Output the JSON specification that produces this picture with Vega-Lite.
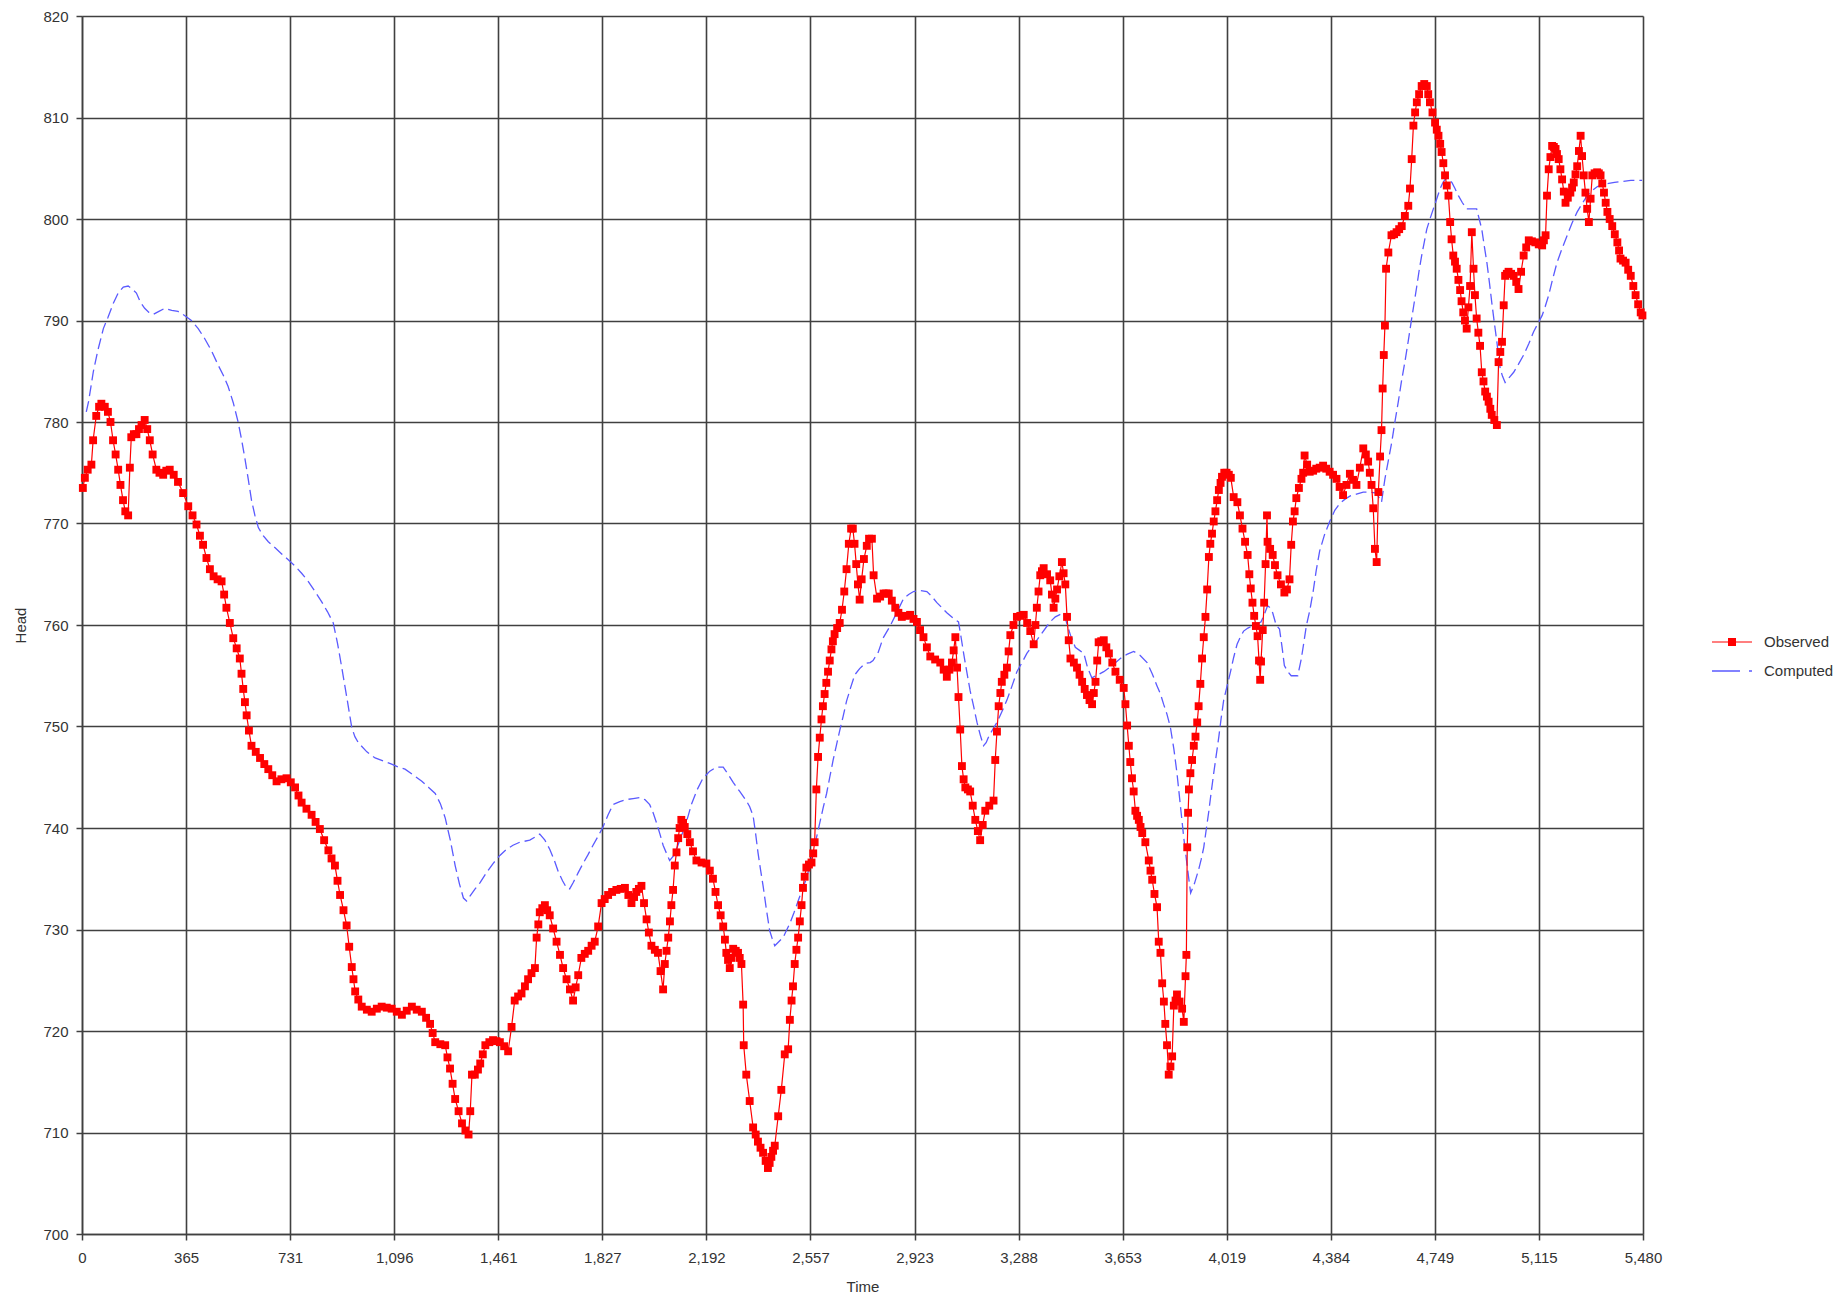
{
"$schema": "https://vega.github.io/schema/vega-lite/v6.json",
"width": 1561, "height": 1218,
"autosize": {"type": "none"},
"padding": {"left": 82, "top": 16, "right": 204, "bottom": 63},
"background": "white",
"config": {
 "view": {"stroke": null},
 "font": "Liberation Sans",
 "axis": {
  "domainColor": "#404040", "domainWidth": 1.5,
  "tickColor": "#404040", "tickWidth": 1.5, "tickSize": 6,
  "gridColor": "#404040", "gridWidth": 1.6, "gridOpacity": 1,
  "labelFont": "Liberation Sans", "labelFontSize": 15, "labelColor": "#333333",
  "titleFont": "Liberation Sans", "titleFontSize": 15, "titleFontWeight": "normal", "titleColor": "#333333",
  "labelOverlap": false, "labelFlush": false
 }
},
"datasets": {
"obs": [
{"Time":3,"Head":773.5},{"Time":10,"Head":774.5},{"Time":20,"Head":775.3},{"Time":33,"Head":775.8},{"Time":39,"Head":778.2},{"Time":50,"Head":780.6},{"Time":60,"Head":781.5},{"Time":68,"Head":781.8},{"Time":80,"Head":781.5},{"Time":91,"Head":781.0},{"Time":100,"Head":780.0},{"Time":109,"Head":778.2},{"Time":118,"Head":776.8},{"Time":127,"Head":775.3},{"Time":135,"Head":773.8},{"Time":144,"Head":772.3},{"Time":152,"Head":771.2},{"Time":162,"Head":770.8},{"Time":168,"Head":775.5},{"Time":173,"Head":778.5},{"Time":182,"Head":778.8},{"Time":191,"Head":778.8},{"Time":200,"Head":779.3},{"Time":209,"Head":779.7},{"Time":220,"Head":780.2},{"Time":229,"Head":779.3},{"Time":238,"Head":778.2},{"Time":248,"Head":776.8},{"Time":261,"Head":775.3},{"Time":272,"Head":775.0},{"Time":285,"Head":774.8},{"Time":296,"Head":775.2},{"Time":308,"Head":775.3},{"Time":322,"Head":774.8},{"Time":337,"Head":774.1},{"Time":355,"Head":773.0},{"Time":373,"Head":771.7},{"Time":388,"Head":770.8},{"Time":402,"Head":769.9},{"Time":414,"Head":768.8},{"Time":425,"Head":767.9},{"Time":437,"Head":766.6},{"Time":449,"Head":765.5},{"Time":462,"Head":764.8},{"Time":476,"Head":764.5},{"Time":490,"Head":764.3},{"Time":499,"Head":763.0},{"Time":507,"Head":761.7},{"Time":519,"Head":760.2},{"Time":531,"Head":758.7},{"Time":543,"Head":757.7},{"Time":554,"Head":756.7},{"Time":560,"Head":755.2},{"Time":566,"Head":753.7},{"Time":572,"Head":752.4},{"Time":578,"Head":751.1},{"Time":586,"Head":749.6},{"Time":595,"Head":748.1},{"Time":610,"Head":747.5},{"Time":625,"Head":746.9},{"Time":640,"Head":746.3},{"Time":654,"Head":745.8},{"Time":668,"Head":745.2},{"Time":683,"Head":744.6},{"Time":700,"Head":744.8},{"Time":718,"Head":744.9},{"Time":733,"Head":744.5},{"Time":748,"Head":744.0},{"Time":760,"Head":743.2},{"Time":771,"Head":742.5},{"Time":788,"Head":741.9},{"Time":806,"Head":741.3},{"Time":820,"Head":740.6},{"Time":835,"Head":739.9},{"Time":850,"Head":738.8},{"Time":865,"Head":737.8},{"Time":876,"Head":737.0},{"Time":888,"Head":736.3},{"Time":897,"Head":734.8},{"Time":906,"Head":733.4},{"Time":918,"Head":731.9},{"Time":929,"Head":730.4},{"Time":938,"Head":728.3},{"Time":947,"Head":726.3},{"Time":953,"Head":725.1},{"Time":959,"Head":723.9},{"Time":970,"Head":723.1},{"Time":982,"Head":722.4},{"Time":1000,"Head":722.1},{"Time":1017,"Head":721.9},{"Time":1035,"Head":722.2},{"Time":1052,"Head":722.4},{"Time":1070,"Head":722.3},{"Time":1087,"Head":722.2},{"Time":1105,"Head":721.9},{"Time":1123,"Head":721.6},{"Time":1140,"Head":722.0},{"Time":1158,"Head":722.4},{"Time":1175,"Head":722.1},{"Time":1193,"Head":721.9},{"Time":1208,"Head":721.3},{"Time":1222,"Head":720.7},{"Time":1231,"Head":719.8},{"Time":1240,"Head":718.9},{"Time":1258,"Head":718.7},{"Time":1275,"Head":718.6},{"Time":1283,"Head":717.4},{"Time":1292,"Head":716.3},{"Time":1301,"Head":714.8},{"Time":1310,"Head":713.3},{"Time":1322,"Head":712.1},{"Time":1334,"Head":710.9},{"Time":1346,"Head":710.2},{"Time":1357,"Head":709.8},{"Time":1363,"Head":712.1},{"Time":1369,"Head":715.7},{"Time":1379,"Head":715.7},{"Time":1390,"Head":716.2},{"Time":1398,"Head":716.8},{"Time":1407,"Head":717.7},{"Time":1416,"Head":718.6},{"Time":1430,"Head":718.9},{"Time":1443,"Head":719.1},{"Time":1455,"Head":719.0},{"Time":1467,"Head":718.9},{"Time":1482,"Head":718.5},{"Time":1496,"Head":718.0},{"Time":1508,"Head":720.4},{"Time":1519,"Head":723.0},{"Time":1531,"Head":723.4},{"Time":1543,"Head":723.7},{"Time":1555,"Head":724.4},{"Time":1566,"Head":725.1},{"Time":1578,"Head":725.7},{"Time":1590,"Head":726.2},{"Time":1596,"Head":729.2},{"Time":1602,"Head":730.5},{"Time":1607,"Head":731.7},{"Time":1616,"Head":732.1},{"Time":1625,"Head":732.4},{"Time":1633,"Head":731.9},{"Time":1642,"Head":731.4},{"Time":1654,"Head":730.1},{"Time":1666,"Head":728.8},{"Time":1678,"Head":727.5},{"Time":1689,"Head":726.2},{"Time":1701,"Head":725.1},{"Time":1713,"Head":724.1},{"Time":1724,"Head":723.0},{"Time":1733,"Head":724.3},{"Time":1742,"Head":725.5},{"Time":1753,"Head":727.2},{"Time":1765,"Head":727.6},{"Time":1777,"Head":727.9},{"Time":1789,"Head":728.4},{"Time":1800,"Head":728.8},{"Time":1812,"Head":730.3},{"Time":1824,"Head":732.6},{"Time":1835,"Head":733.0},{"Time":1847,"Head":733.4},{"Time":1861,"Head":733.7},{"Time":1876,"Head":733.9},{"Time":1891,"Head":734.0},{"Time":1906,"Head":734.1},{"Time":1918,"Head":733.4},{"Time":1929,"Head":732.6},{"Time":1938,"Head":733.2},{"Time":1946,"Head":733.7},{"Time":1955,"Head":734.0},{"Time":1964,"Head":734.3},{"Time":1973,"Head":732.6},{"Time":1982,"Head":731.0},{"Time":1990,"Head":729.7},{"Time":1999,"Head":728.4},{"Time":2011,"Head":728.0},{"Time":2022,"Head":727.7},{"Time":2031,"Head":725.9},{"Time":2040,"Head":724.1},{"Time":2046,"Head":726.6},{"Time":2052,"Head":727.9},{"Time":2058,"Head":729.2},{"Time":2064,"Head":730.8},{"Time":2069,"Head":732.4},{"Time":2075,"Head":733.9},{"Time":2081,"Head":736.3},{"Time":2087,"Head":737.6},{"Time":2093,"Head":739.0},{"Time":2098,"Head":740.0},{"Time":2104,"Head":740.8},{"Time":2110,"Head":740.5},{"Time":2116,"Head":740.1},{"Time":2125,"Head":739.4},{"Time":2134,"Head":738.6},{"Time":2145,"Head":737.7},{"Time":2157,"Head":736.8},{"Time":2175,"Head":736.6},{"Time":2192,"Head":736.5},{"Time":2204,"Head":735.8},{"Time":2215,"Head":735.0},{"Time":2224,"Head":733.7},{"Time":2233,"Head":732.4},{"Time":2242,"Head":731.4},{"Time":2251,"Head":730.3},{"Time":2257,"Head":729.0},{"Time":2262,"Head":727.7},{"Time":2268,"Head":727.0},{"Time":2274,"Head":726.2},{"Time":2280,"Head":727.2},{"Time":2286,"Head":728.1},{"Time":2295,"Head":727.9},{"Time":2303,"Head":727.7},{"Time":2309,"Head":727.2},{"Time":2315,"Head":726.6},{"Time":2321,"Head":722.6},{"Time":2323,"Head":718.6},{"Time":2332,"Head":715.7},{"Time":2344,"Head":713.1},{"Time":2356,"Head":710.5},{"Time":2365,"Head":709.8},{"Time":2373,"Head":709.1},{"Time":2382,"Head":708.5},{"Time":2391,"Head":708.0},{"Time":2400,"Head":707.2},{"Time":2408,"Head":706.5},{"Time":2414,"Head":707.0},{"Time":2420,"Head":707.6},{"Time":2426,"Head":708.2},{"Time":2432,"Head":708.7},{"Time":2444,"Head":711.6},{"Time":2455,"Head":714.2},{"Time":2467,"Head":717.7},{"Time":2479,"Head":718.2},{"Time":2485,"Head":721.1},{"Time":2491,"Head":723.0},{"Time":2496,"Head":724.4},{"Time":2502,"Head":726.6},{"Time":2508,"Head":728.0},{"Time":2514,"Head":729.2},{"Time":2520,"Head":730.8},{"Time":2526,"Head":732.4},{"Time":2531,"Head":734.1},{"Time":2537,"Head":735.2},{"Time":2543,"Head":736.1},{"Time":2552,"Head":736.4},{"Time":2561,"Head":736.6},{"Time":2567,"Head":737.5},{"Time":2572,"Head":738.6},{"Time":2578,"Head":743.8},{"Time":2584,"Head":747.0},{"Time":2590,"Head":748.9},{"Time":2596,"Head":750.7},{"Time":2601,"Head":752.0},{"Time":2607,"Head":753.2},{"Time":2613,"Head":754.3},{"Time":2619,"Head":755.4},{"Time":2625,"Head":756.5},{"Time":2631,"Head":757.6},{"Time":2636,"Head":758.4},{"Time":2642,"Head":759.1},{"Time":2651,"Head":759.7},{"Time":2660,"Head":760.2},{"Time":2668,"Head":761.5},{"Time":2676,"Head":763.3},{"Time":2684,"Head":765.5},{"Time":2692,"Head":768.0},{"Time":2700,"Head":769.5},{"Time":2706,"Head":769.5},{"Time":2712,"Head":768.0},{"Time":2718,"Head":766.0},{"Time":2724,"Head":764.0},{"Time":2730,"Head":762.5},{"Time":2737,"Head":764.5},{"Time":2745,"Head":766.5},{"Time":2755,"Head":767.8},{"Time":2763,"Head":768.5},{"Time":2773,"Head":768.5},{"Time":2779,"Head":764.9},{"Time":2791,"Head":762.6},{"Time":2802,"Head":762.8},{"Time":2814,"Head":763.1},{"Time":2823,"Head":763.1},{"Time":2832,"Head":763.1},{"Time":2843,"Head":762.4},{"Time":2855,"Head":761.7},{"Time":2866,"Head":761.2},{"Time":2878,"Head":760.8},{"Time":2892,"Head":760.9},{"Time":2907,"Head":761.0},{"Time":2919,"Head":760.6},{"Time":2931,"Head":760.3},{"Time":2942,"Head":759.5},{"Time":2954,"Head":758.8},{"Time":2966,"Head":757.8},{"Time":2978,"Head":756.9},{"Time":2995,"Head":756.6},{"Time":3013,"Head":756.3},{"Time":3025,"Head":755.6},{"Time":3036,"Head":754.9},{"Time":3045,"Head":755.6},{"Time":3054,"Head":756.3},{"Time":3060,"Head":757.5},{"Time":3066,"Head":758.8},{"Time":3072,"Head":755.8},{"Time":3077,"Head":752.9},{"Time":3083,"Head":749.7},{"Time":3089,"Head":746.1},{"Time":3095,"Head":744.8},{"Time":3101,"Head":744.0},{"Time":3110,"Head":743.8},{"Time":3118,"Head":743.6},{"Time":3127,"Head":742.2},{"Time":3136,"Head":740.8},{"Time":3145,"Head":739.7},{"Time":3153,"Head":738.8},{"Time":3162,"Head":740.3},{"Time":3171,"Head":741.7},{"Time":3185,"Head":742.2},{"Time":3200,"Head":742.7},{"Time":3206,"Head":746.7},{"Time":3212,"Head":749.5},{"Time":3218,"Head":752.0},{"Time":3224,"Head":753.3},{"Time":3229,"Head":754.4},{"Time":3238,"Head":755.1},{"Time":3247,"Head":755.8},{"Time":3253,"Head":757.4},{"Time":3259,"Head":759.0},{"Time":3270,"Head":760.0},{"Time":3282,"Head":760.8},{"Time":3294,"Head":760.9},{"Time":3306,"Head":761.0},{"Time":3318,"Head":760.2},{"Time":3329,"Head":759.4},{"Time":3341,"Head":758.1},{"Time":3347,"Head":760.0},{"Time":3352,"Head":761.7},{"Time":3358,"Head":763.3},{"Time":3364,"Head":764.9},{"Time":3370,"Head":765.3},{"Time":3376,"Head":765.6},{"Time":3388,"Head":765.0},{"Time":3399,"Head":764.4},{"Time":3405,"Head":763.0},{"Time":3411,"Head":761.7},{"Time":3417,"Head":762.6},{"Time":3423,"Head":763.5},{"Time":3431,"Head":764.8},{"Time":3440,"Head":766.2},{"Time":3446,"Head":765.1},{"Time":3452,"Head":764.0},{"Time":3458,"Head":760.8},{"Time":3464,"Head":758.5},{"Time":3470,"Head":756.7},{"Time":3482,"Head":756.3},{"Time":3493,"Head":755.8},{"Time":3502,"Head":755.1},{"Time":3511,"Head":754.4},{"Time":3520,"Head":753.7},{"Time":3528,"Head":753.1},{"Time":3537,"Head":752.6},{"Time":3546,"Head":752.2},{"Time":3552,"Head":753.3},{"Time":3558,"Head":754.4},{"Time":3564,"Head":756.5},{"Time":3569,"Head":758.3},{"Time":3578,"Head":758.4},{"Time":3587,"Head":758.5},{"Time":3596,"Head":757.8},{"Time":3605,"Head":757.2},{"Time":3617,"Head":756.3},{"Time":3628,"Head":755.4},{"Time":3643,"Head":754.6},{"Time":3657,"Head":753.8},{"Time":3663,"Head":752.2},{"Time":3669,"Head":750.1},{"Time":3675,"Head":748.1},{"Time":3680,"Head":746.5},{"Time":3686,"Head":744.9},{"Time":3692,"Head":743.6},{"Time":3698,"Head":741.7},{"Time":3704,"Head":741.2},{"Time":3710,"Head":740.8},{"Time":3716,"Head":740.1},{"Time":3722,"Head":739.5},{"Time":3733,"Head":738.6},{"Time":3745,"Head":736.8},{"Time":3751,"Head":735.8},{"Time":3757,"Head":734.9},{"Time":3765,"Head":733.5},{"Time":3774,"Head":732.2},{"Time":3780,"Head":728.8},{"Time":3786,"Head":727.7},{"Time":3792,"Head":724.7},{"Time":3798,"Head":722.9},{"Time":3803,"Head":720.7},{"Time":3809,"Head":718.6},{"Time":3815,"Head":715.7},{"Time":3821,"Head":716.5},{"Time":3827,"Head":717.5},{"Time":3833,"Head":722.5},{"Time":3839,"Head":723.0},{"Time":3844,"Head":723.6},{"Time":3853,"Head":722.9},{"Time":3862,"Head":722.2},{"Time":3868,"Head":720.9},{"Time":3874,"Head":725.4},{"Time":3877,"Head":727.5},{"Time":3880,"Head":738.1},{"Time":3883,"Head":741.5},{"Time":3886,"Head":743.8},{"Time":3891,"Head":745.4},{"Time":3897,"Head":746.7},{"Time":3903,"Head":748.1},{"Time":3909,"Head":749.0},{"Time":3915,"Head":750.4},{"Time":3920,"Head":752.0},{"Time":3926,"Head":754.2},{"Time":3932,"Head":756.7},{"Time":3938,"Head":758.8},{"Time":3944,"Head":760.8},{"Time":3950,"Head":763.5},{"Time":3956,"Head":766.7},{"Time":3961,"Head":768.0},{"Time":3967,"Head":769.0},{"Time":3973,"Head":770.2},{"Time":3979,"Head":771.2},{"Time":3985,"Head":772.3},{"Time":3991,"Head":773.3},{"Time":3997,"Head":774.0},{"Time":4002,"Head":774.6},{"Time":4010,"Head":775.0},{"Time":4018,"Head":775.0},{"Time":4026,"Head":774.8},{"Time":4033,"Head":774.5},{"Time":4043,"Head":772.6},{"Time":4056,"Head":772.1},{"Time":4065,"Head":770.8},{"Time":4074,"Head":769.5},{"Time":4083,"Head":768.2},{"Time":4092,"Head":766.9},{"Time":4098,"Head":765.0},{"Time":4103,"Head":763.6},{"Time":4109,"Head":762.2},{"Time":4115,"Head":760.9},{"Time":4121,"Head":759.9},{"Time":4127,"Head":758.9},{"Time":4132,"Head":756.5},{"Time":4136,"Head":754.6},{"Time":4139,"Head":756.4},{"Time":4145,"Head":759.5},{"Time":4150,"Head":762.2},{"Time":4155,"Head":766.0},{"Time":4160,"Head":770.8},{"Time":4162,"Head":768.2},{"Time":4171,"Head":767.5},{"Time":4180,"Head":766.9},{"Time":4188,"Head":765.9},{"Time":4197,"Head":764.9},{"Time":4209,"Head":764.0},{"Time":4221,"Head":763.2},{"Time":4230,"Head":763.5},{"Time":4239,"Head":764.5},{"Time":4245,"Head":767.9},{"Time":4251,"Head":770.2},{"Time":4257,"Head":771.2},{"Time":4263,"Head":772.5},{"Time":4272,"Head":773.5},{"Time":4281,"Head":774.4},{"Time":4287,"Head":775.0},{"Time":4292,"Head":776.7},{"Time":4301,"Head":775.8},{"Time":4310,"Head":775.1},{"Time":4322,"Head":775.2},{"Time":4333,"Head":775.4},{"Time":4345,"Head":775.5},{"Time":4357,"Head":775.7},{"Time":4368,"Head":775.4},{"Time":4380,"Head":775.1},{"Time":4392,"Head":774.8},{"Time":4404,"Head":774.4},{"Time":4415,"Head":773.6},{"Time":4427,"Head":772.8},{"Time":4439,"Head":773.8},{"Time":4451,"Head":774.9},{"Time":4462,"Head":774.3},{"Time":4474,"Head":773.8},{"Time":4486,"Head":775.5},{"Time":4498,"Head":777.4},{"Time":4507,"Head":776.8},{"Time":4515,"Head":776.1},{"Time":4521,"Head":775.0},{"Time":4527,"Head":773.8},{"Time":4533,"Head":771.5},{"Time":4539,"Head":767.5},{"Time":4545,"Head":766.2},{"Time":4551,"Head":773.1},{"Time":4557,"Head":776.6},{"Time":4562,"Head":779.2},{"Time":4566,"Head":783.3},{"Time":4570,"Head":786.6},{"Time":4574,"Head":789.5},{"Time":4578,"Head":795.1},{"Time":4586,"Head":796.7},{"Time":4597,"Head":798.4},{"Time":4606,"Head":798.5},{"Time":4615,"Head":798.7},{"Time":4624,"Head":799.0},{"Time":4633,"Head":799.3},{"Time":4644,"Head":800.3},{"Time":4656,"Head":801.3},{"Time":4662,"Head":803.0},{"Time":4668,"Head":805.9},{"Time":4674,"Head":809.2},{"Time":4680,"Head":810.5},{"Time":4686,"Head":811.5},{"Time":4694,"Head":812.3},{"Time":4703,"Head":813.1},{"Time":4712,"Head":813.3},{"Time":4721,"Head":813.1},{"Time":4726,"Head":812.3},{"Time":4732,"Head":811.5},{"Time":4741,"Head":810.5},{"Time":4750,"Head":809.5},{"Time":4756,"Head":808.8},{"Time":4762,"Head":808.2},{"Time":4768,"Head":807.4},{"Time":4773,"Head":806.6},{"Time":4779,"Head":805.5},{"Time":4785,"Head":804.3},{"Time":4791,"Head":803.3},{"Time":4797,"Head":802.3},{"Time":4803,"Head":799.7},{"Time":4808,"Head":798.0},{"Time":4814,"Head":796.4},{"Time":4820,"Head":795.8},{"Time":4826,"Head":795.1},{"Time":4832,"Head":794.0},{"Time":4838,"Head":793.0},{"Time":4843,"Head":791.9},{"Time":4849,"Head":790.8},{"Time":4855,"Head":790.0},{"Time":4861,"Head":789.2},{"Time":4867,"Head":791.3},{"Time":4873,"Head":793.4},{"Time":4879,"Head":798.7},{"Time":4885,"Head":795.1},{"Time":4890,"Head":792.5},{"Time":4896,"Head":790.2},{"Time":4902,"Head":788.8},{"Time":4908,"Head":787.5},{"Time":4914,"Head":784.9},{"Time":4920,"Head":784.0},{"Time":4926,"Head":783.0},{"Time":4932,"Head":782.5},{"Time":4938,"Head":782.0},{"Time":4944,"Head":781.3},{"Time":4949,"Head":780.7},{"Time":4958,"Head":780.2},{"Time":4967,"Head":779.7},{"Time":4973,"Head":785.9},{"Time":4979,"Head":786.9},{"Time":4985,"Head":787.9},{"Time":4991,"Head":791.5},{"Time":4996,"Head":794.4},{"Time":5002,"Head":794.6},{"Time":5008,"Head":794.8},{"Time":5017,"Head":794.6},{"Time":5026,"Head":794.4},{"Time":5035,"Head":793.8},{"Time":5043,"Head":793.1},{"Time":5052,"Head":794.8},{"Time":5061,"Head":796.4},{"Time":5070,"Head":797.2},{"Time":5079,"Head":797.9},{"Time":5090,"Head":797.8},{"Time":5102,"Head":797.7},{"Time":5114,"Head":797.5},{"Time":5126,"Head":797.4},{"Time":5132,"Head":797.9},{"Time":5138,"Head":798.4},{"Time":5143,"Head":802.3},{"Time":5149,"Head":804.9},{"Time":5155,"Head":806.1},{"Time":5161,"Head":807.2},{"Time":5167,"Head":807.1},{"Time":5173,"Head":806.9},{"Time":5178,"Head":806.4},{"Time":5184,"Head":805.9},{"Time":5190,"Head":804.9},{"Time":5196,"Head":803.9},{"Time":5202,"Head":802.7},{"Time":5208,"Head":801.6},{"Time":5216,"Head":802.1},{"Time":5225,"Head":802.6},{"Time":5231,"Head":803.1},{"Time":5237,"Head":803.6},{"Time":5243,"Head":804.4},{"Time":5249,"Head":805.2},{"Time":5255,"Head":806.7},{"Time":5261,"Head":808.2},{"Time":5266,"Head":806.2},{"Time":5272,"Head":804.3},{"Time":5278,"Head":802.6},{"Time":5284,"Head":801.0},{"Time":5290,"Head":799.7},{"Time":5296,"Head":802.0},{"Time":5302,"Head":804.3},{"Time":5310,"Head":804.5},{"Time":5319,"Head":804.6},{"Time":5325,"Head":804.5},{"Time":5331,"Head":804.3},{"Time":5337,"Head":803.5},{"Time":5343,"Head":802.6},{"Time":5349,"Head":801.6},{"Time":5355,"Head":800.7},{"Time":5363,"Head":800.0},{"Time":5372,"Head":799.3},{"Time":5381,"Head":798.5},{"Time":5390,"Head":797.7},{"Time":5396,"Head":796.9},{"Time":5401,"Head":796.1},{"Time":5410,"Head":795.9},{"Time":5419,"Head":795.7},{"Time":5428,"Head":795.0},{"Time":5437,"Head":794.4},{"Time":5446,"Head":793.4},{"Time":5454,"Head":792.5},{"Time":5463,"Head":791.6},{"Time":5472,"Head":790.8},{"Time":5478,"Head":790.5}
],
"comp": [
{"Time":15,"Head":781.0},{"Time":23,"Head":782.0},{"Time":40,"Head":785.0},{"Time":56,"Head":787.1},{"Time":75,"Head":789.2},{"Time":91,"Head":790.3},{"Time":110,"Head":791.7},{"Time":127,"Head":792.7},{"Time":145,"Head":793.3},{"Time":162,"Head":793.4},{"Time":177,"Head":793.1},{"Time":191,"Head":792.7},{"Time":205,"Head":791.8},{"Time":220,"Head":791.2},{"Time":235,"Head":790.8},{"Time":250,"Head":790.6},{"Time":270,"Head":790.9},{"Time":291,"Head":791.2},{"Time":315,"Head":791.0},{"Time":337,"Head":790.9},{"Time":360,"Head":790.5},{"Time":384,"Head":790.0},{"Time":408,"Head":789.2},{"Time":431,"Head":788.2},{"Time":455,"Head":787.0},{"Time":478,"Head":785.6},{"Time":496,"Head":784.6},{"Time":513,"Head":783.5},{"Time":531,"Head":781.9},{"Time":548,"Head":780.0},{"Time":560,"Head":778.3},{"Time":572,"Head":776.4},{"Time":584,"Head":774.3},{"Time":595,"Head":772.3},{"Time":607,"Head":770.8},{"Time":619,"Head":769.6},{"Time":636,"Head":768.8},{"Time":654,"Head":768.2},{"Time":678,"Head":767.6},{"Time":701,"Head":767.0},{"Time":725,"Head":766.4},{"Time":748,"Head":765.8},{"Time":771,"Head":765.1},{"Time":794,"Head":764.3},{"Time":818,"Head":763.3},{"Time":841,"Head":762.3},{"Time":862,"Head":761.3},{"Time":882,"Head":760.2},{"Time":897,"Head":758.2},{"Time":912,"Head":755.8},{"Time":930,"Head":752.8},{"Time":947,"Head":749.9},{"Time":958,"Head":749.0},{"Time":970,"Head":748.4},{"Time":1000,"Head":747.5},{"Time":1029,"Head":746.9},{"Time":1058,"Head":746.6},{"Time":1087,"Head":746.3},{"Time":1110,"Head":746.0},{"Time":1134,"Head":745.8},{"Time":1164,"Head":745.2},{"Time":1193,"Head":744.6},{"Time":1217,"Head":744.0},{"Time":1240,"Head":743.4},{"Time":1258,"Head":742.4},{"Time":1275,"Head":741.0},{"Time":1293,"Head":738.8},{"Time":1310,"Head":736.3},{"Time":1325,"Head":734.5},{"Time":1339,"Head":733.1},{"Time":1350,"Head":732.8},{"Time":1362,"Head":733.3},{"Time":1380,"Head":734.0},{"Time":1397,"Head":734.6},{"Time":1420,"Head":735.6},{"Time":1443,"Head":736.5},{"Time":1467,"Head":737.3},{"Time":1490,"Head":737.9},{"Time":1513,"Head":738.3},{"Time":1537,"Head":738.6},{"Time":1572,"Head":738.8},{"Time":1590,"Head":739.1},{"Time":1607,"Head":739.4},{"Time":1625,"Head":738.8},{"Time":1642,"Head":737.9},{"Time":1657,"Head":736.9},{"Time":1672,"Head":735.7},{"Time":1687,"Head":734.8},{"Time":1701,"Head":734.1},{"Time":1712,"Head":734.0},{"Time":1724,"Head":734.6},{"Time":1742,"Head":735.6},{"Time":1759,"Head":736.5},{"Time":1777,"Head":737.4},{"Time":1794,"Head":738.3},{"Time":1812,"Head":739.2},{"Time":1829,"Head":740.1},{"Time":1847,"Head":741.3},{"Time":1864,"Head":742.3},{"Time":1888,"Head":742.6},{"Time":1911,"Head":742.8},{"Time":1935,"Head":742.9},{"Time":1958,"Head":743.0},{"Time":1976,"Head":742.8},{"Time":1993,"Head":742.3},{"Time":2005,"Head":741.5},{"Time":2017,"Head":740.5},{"Time":2029,"Head":739.4},{"Time":2040,"Head":738.3},{"Time":2052,"Head":737.5},{"Time":2063,"Head":736.8},{"Time":2075,"Head":737.2},{"Time":2087,"Head":737.9},{"Time":2101,"Head":739.0},{"Time":2116,"Head":740.1},{"Time":2128,"Head":741.2},{"Time":2139,"Head":742.3},{"Time":2160,"Head":743.8},{"Time":2180,"Head":744.9},{"Time":2204,"Head":745.6},{"Time":2227,"Head":746.0},{"Time":2251,"Head":746.0},{"Time":2268,"Head":745.3},{"Time":2286,"Head":744.5},{"Time":2309,"Head":743.6},{"Time":2332,"Head":742.7},{"Time":2344,"Head":742.1},{"Time":2356,"Head":741.2},{"Time":2365,"Head":739.4},{"Time":2373,"Head":737.6},{"Time":2382,"Head":735.9},{"Time":2391,"Head":734.3},{"Time":2402,"Head":732.1},{"Time":2414,"Head":729.9},{"Time":2423,"Head":729.1},{"Time":2432,"Head":728.4},{"Time":2446,"Head":728.8},{"Time":2461,"Head":729.2},{"Time":2473,"Head":729.9},{"Time":2485,"Head":730.6},{"Time":2500,"Head":731.7},{"Time":2514,"Head":732.8},{"Time":2528,"Head":733.9},{"Time":2543,"Head":735.0},{"Time":2555,"Head":736.3},{"Time":2567,"Head":737.6},{"Time":2578,"Head":739.0},{"Time":2590,"Head":740.5},{"Time":2602,"Head":742.0},{"Time":2614,"Head":743.4},{"Time":2625,"Head":745.0},{"Time":2637,"Head":746.7},{"Time":2648,"Head":748.1},{"Time":2660,"Head":749.6},{"Time":2672,"Head":751.0},{"Time":2684,"Head":752.5},{"Time":2698,"Head":753.8},{"Time":2713,"Head":755.1},{"Time":2730,"Head":755.7},{"Time":2748,"Head":756.2},{"Time":2767,"Head":756.3},{"Time":2777,"Head":756.5},{"Time":2795,"Head":757.3},{"Time":2812,"Head":758.7},{"Time":2837,"Head":759.9},{"Time":2860,"Head":761.2},{"Time":2884,"Head":762.6},{"Time":2902,"Head":763.0},{"Time":2919,"Head":763.3},{"Time":2942,"Head":763.4},{"Time":2966,"Head":763.3},{"Time":2984,"Head":762.8},{"Time":3001,"Head":762.2},{"Time":3019,"Head":761.7},{"Time":3036,"Head":761.2},{"Time":3057,"Head":760.7},{"Time":3077,"Head":760.3},{"Time":3086,"Head":758.8},{"Time":3095,"Head":757.2},{"Time":3106,"Head":755.4},{"Time":3118,"Head":753.5},{"Time":3130,"Head":752.0},{"Time":3142,"Head":750.4},{"Time":3153,"Head":749.2},{"Time":3165,"Head":748.1},{"Time":3174,"Head":748.4},{"Time":3183,"Head":749.0},{"Time":3197,"Head":749.7},{"Time":3212,"Head":750.4},{"Time":3230,"Head":751.5},{"Time":3247,"Head":752.6},{"Time":3265,"Head":754.0},{"Time":3282,"Head":755.4},{"Time":3300,"Head":756.3},{"Time":3317,"Head":757.2},{"Time":3335,"Head":757.9},{"Time":3352,"Head":758.5},{"Time":3370,"Head":759.2},{"Time":3388,"Head":759.9},{"Time":3402,"Head":760.4},{"Time":3417,"Head":760.8},{"Time":3431,"Head":761.0},{"Time":3446,"Head":761.2},{"Time":3458,"Head":760.1},{"Time":3470,"Head":759.0},{"Time":3479,"Head":758.4},{"Time":3487,"Head":757.8},{"Time":3502,"Head":757.5},{"Time":3517,"Head":757.2},{"Time":3530,"Head":755.8},{"Time":3545,"Head":754.8},{"Time":3560,"Head":755.0},{"Time":3587,"Head":755.4},{"Time":3616,"Head":756.0},{"Time":3645,"Head":756.7},{"Time":3668,"Head":757.1},{"Time":3692,"Head":757.4},{"Time":3715,"Head":757.0},{"Time":3739,"Head":756.3},{"Time":3757,"Head":755.2},{"Time":3774,"Head":754.0},{"Time":3786,"Head":753.2},{"Time":3797,"Head":752.2},{"Time":3809,"Head":751.2},{"Time":3821,"Head":749.9},{"Time":3833,"Head":747.8},{"Time":3844,"Head":745.4},{"Time":3856,"Head":742.2},{"Time":3868,"Head":739.0},{"Time":3880,"Head":736.2},{"Time":3892,"Head":733.6},{"Time":3905,"Head":734.5},{"Time":3920,"Head":735.9},{"Time":3929,"Head":736.9},{"Time":3938,"Head":738.1},{"Time":3947,"Head":739.9},{"Time":3956,"Head":741.7},{"Time":3964,"Head":743.5},{"Time":3973,"Head":745.4},{"Time":3982,"Head":747.2},{"Time":3991,"Head":749.0},{"Time":3999,"Head":750.8},{"Time":4008,"Head":752.6},{"Time":4020,"Head":754.0},{"Time":4032,"Head":755.4},{"Time":4043,"Head":756.8},{"Time":4055,"Head":758.1},{"Time":4066,"Head":758.8},{"Time":4078,"Head":759.4},{"Time":4093,"Head":759.7},{"Time":4108,"Head":759.9},{"Time":4123,"Head":760.1},{"Time":4139,"Head":760.3},{"Time":4150,"Head":761.0},{"Time":4162,"Head":761.9},{"Time":4171,"Head":761.7},{"Time":4180,"Head":761.2},{"Time":4192,"Head":760.0},{"Time":4204,"Head":759.6},{"Time":4213,"Head":757.8},{"Time":4221,"Head":756.0},{"Time":4233,"Head":755.4},{"Time":4245,"Head":755.0},{"Time":4257,"Head":755.0},{"Time":4268,"Head":755.0},{"Time":4280,"Head":756.6},{"Time":4289,"Head":758.2},{"Time":4298,"Head":759.9},{"Time":4310,"Head":761.4},{"Time":4322,"Head":763.3},{"Time":4333,"Head":765.4},{"Time":4345,"Head":767.3},{"Time":4362,"Head":768.9},{"Time":4380,"Head":770.2},{"Time":4398,"Head":771.3},{"Time":4416,"Head":772.0},{"Time":4434,"Head":772.4},{"Time":4451,"Head":772.7},{"Time":4474,"Head":772.9},{"Time":4498,"Head":773.1},{"Time":4521,"Head":773.1},{"Time":4545,"Head":773.0},{"Time":4554,"Head":772.5},{"Time":4562,"Head":772.1},{"Time":4574,"Head":774.4},{"Time":4586,"Head":776.2},{"Time":4598,"Head":778.0},{"Time":4609,"Head":780.0},{"Time":4621,"Head":782.0},{"Time":4632,"Head":784.0},{"Time":4644,"Head":785.9},{"Time":4656,"Head":788.0},{"Time":4668,"Head":790.2},{"Time":4677,"Head":791.8},{"Time":4686,"Head":793.4},{"Time":4694,"Head":794.9},{"Time":4703,"Head":796.4},{"Time":4712,"Head":797.7},{"Time":4721,"Head":799.0},{"Time":4732,"Head":800.0},{"Time":4744,"Head":801.0},{"Time":4756,"Head":802.0},{"Time":4768,"Head":803.0},{"Time":4776,"Head":803.5},{"Time":4785,"Head":803.9},{"Time":4797,"Head":803.9},{"Time":4809,"Head":803.6},{"Time":4820,"Head":803.0},{"Time":4832,"Head":802.3},{"Time":4846,"Head":801.6},{"Time":4861,"Head":801.0},{"Time":4878,"Head":801.0},{"Time":4896,"Head":801.0},{"Time":4905,"Head":800.0},{"Time":4914,"Head":799.0},{"Time":4923,"Head":797.3},{"Time":4932,"Head":795.7},{"Time":4941,"Head":793.7},{"Time":4949,"Head":791.8},{"Time":4958,"Head":789.8},{"Time":4967,"Head":787.9},{"Time":4973,"Head":786.5},{"Time":4979,"Head":785.2},{"Time":4987,"Head":784.5},{"Time":4996,"Head":783.9},{"Time":5011,"Head":784.4},{"Time":5026,"Head":784.9},{"Time":5043,"Head":785.7},{"Time":5061,"Head":786.6},{"Time":5079,"Head":787.7},{"Time":5096,"Head":788.9},{"Time":5111,"Head":789.7},{"Time":5126,"Head":790.5},{"Time":5137,"Head":791.4},{"Time":5149,"Head":792.5},{"Time":5163,"Head":794.1},{"Time":5178,"Head":795.7},{"Time":5196,"Head":797.1},{"Time":5214,"Head":798.4},{"Time":5231,"Head":799.6},{"Time":5249,"Head":800.7},{"Time":5266,"Head":801.5},{"Time":5284,"Head":802.3},{"Time":5302,"Head":802.8},{"Time":5320,"Head":803.2},{"Time":5340,"Head":803.4},{"Time":5360,"Head":803.5},{"Time":5380,"Head":803.6},{"Time":5407,"Head":803.7},{"Time":5437,"Head":803.8},{"Time":5477,"Head":803.8}
]
},
"encoding": {
 "x": {"field": "Time", "type": "quantitative",
   "scale": {"domain": [0, 5480], "nice": false, "zero": false},
   "axis": {"title": "Time", "values": [0, 365.3333, 730.6667, 1096, 1461.3333, 1826.6667, 2192, 2557.3333, 2922.6667, 3288, 3653.3333, 4018.6667, 4384, 4749.3333, 5114.6667, 5480], "format": ",.0f", "labelPadding": 10, "titlePadding": 14, "grid": true}},
 "y": {"field": "Head", "type": "quantitative",
   "scale": {"domain": [700, 820], "nice": false, "zero": false},
   "axis": {"title": "Head", "values": [700, 710, 720, 730, 740, 750, 760, 770, 780, 790, 800, 810, 820], "format": "d", "labelPadding": 8, "titlePadding": 14, "grid": true}}
},
"layer": [
 {"data": {"name": "comp"}, "mark": {"type": "line", "color": "#5a5aff", "strokeWidth": 1.3, "strokeDash": [11, 5]}},
 {"data": {"name": "obs"}, "mark": {"type": "line", "color": "#ff0000", "strokeWidth": 1.2}},
 {"data": {"name": "obs"}, "mark": {"type": "square", "color": "#ff0000", "size": 62, "opacity": 1, "filled": true}},
 {"data": {"name": "obs"}, "transform": [{"filter": "false"}],
  "mark": {"type": "point", "filled": true, "opacity": 1},
  "encoding": {
   "color": {"field": "Series", "type": "nominal",
     "scale": {"domain": ["Observed", "Computed"], "range": ["#ff0000", "#5a5aff"]},
     "legend": {"title": null, "orient": "none", "legendX": 1640, "legendY": 616, "symbolSize": 400, "symbolStrokeWidth": 0, "symbolOpacity": 1, "labelFontSize": 15, "labelFont": "Liberation Sans", "labelColor": "#333333", "labelOffset": 22, "rowPadding": 11, "padding": 0}},
   "shape": {"field": "Series", "type": "nominal",
     "scale": {"domain": ["Observed", "Computed"], "range": ["M-2,-0.06L2,-0.06L2,0.06L-2,0.06Z M-0.4,-0.4L0.4,-0.4L0.4,0.4L-0.4,0.4Z", "M-2,-0.07L0.8,-0.07L0.8,0.07L-2,0.07Z M1.7,-0.07L2,-0.07L2,0.07L1.7,0.07Z"]},
     "legend": {"title": null, "orient": "none", "legendX": 1640, "legendY": 616, "symbolSize": 400, "symbolStrokeWidth": 0, "symbolOpacity": 1, "labelFontSize": 15, "labelFont": "Liberation Sans", "labelColor": "#333333", "labelOffset": 22, "rowPadding": 11, "padding": 0}}
  }}
]
}
